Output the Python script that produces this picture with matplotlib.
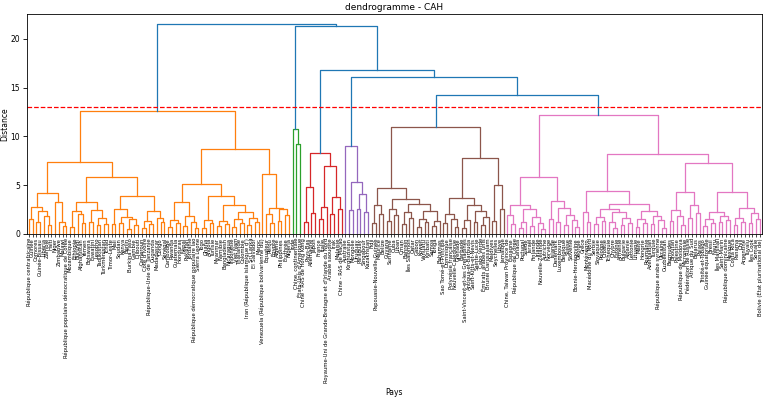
import matplotlib
matplotlib.use("Agg")
import matplotlib.pyplot as plt

seuil = 13.0

# feuilles de chaque classe, de gauche a droite
pays_orange = [
    "République centrafricaine", "Guinée", "Comores", "Guinée-Bissau", "Libéria", "Zambie", "Haïti", "Niger",
    "Zimbabwe", "Malawi", "République populaire démocratique de Corée", "Mozambique", "Éthiopie", "Burundi",
    "Afghanistan", "Yémen", "Botswana", "Eswatini", "Lesotho", "Tadjikistan", "Turkménistan", "Tchad",
    "Timor-Leste", "Mali", "Soudan", "Kenya", "Bénin", "Burkina Faso", "Gambie", "Djibouti", "Cameroun",
    "Côte d'Ivoire", "République-Unie de Tanzanie", "Ouganda", "Madagascar", "Congo", "Sénégal", "Cambodge",
    "Rwanda", "Guatemala", "Honduras", "Népal", "Pakistan", "Jordanie", "République démocratique populaire lao",
    "Sierra Leone", "Togo", "Ghana", "Angola", "Tunisie", "Myanmar", "Namibie", "Bangladesh", "Nicaragua",
    "Indonésie", "Viet Nam", "Thaïlande", "Colombie", "Iran (République islamique d')", "Sri Lanka",
    "El Salvador", "Maroc", "Venezuela (République bolivarienne du)", "Équateur", "Pérou", "Égypte", "Algérie",
    "Philippines", "Érythrée", "Nigéria",
]
pays_vert = ["Inde", "Chine, continentale", "États-Unis d'Amérique"]
pays_rouge = [
    "Chine - RAS de Hong Kong", "Pays-Bas", "Allemagne", "Japon", "France", "Italie",
    "Royaume-Uni de Grande-Bretagne et d'Irlande du Nord", "Arabie saoudite", "Irak", "Malaisie",
    "Chine - RAS de Macao",
]
pays_violet = ["Australie", "Kirghizistan", "Mongolie", "Uruguay", "Paraguay", "Singapour", "Kazakhstan"]
pays_brun = [
    "Fidji", "Papouasie-Nouvelle-Guinée", "Maurice", "Belize", "Guyana", "Suriname", "Cuba", "Liban", "Oman",
    "Bahreïn", "Îles Salomon", "Qatar", "Gabon", "Koweït", "Vanuatu", "Kiribati", "Samoa", "Tonga", "Bahamas",
    "Sao Tomé-et-Principe", "Dominique", "Polynésie française", "Nouvelle-Calédonie", "Grenade", "Barbade",
    "Saint-Vincent-et-les Grenadines", "Antigua-et-Barbuda", "Saint-Kitts-et-Nevis", "Sainte-Lucie",
    "Cabo Verde", "Émirats arabes unis", "Brunéi Darussalam", "Maldives", "Seychelles", "Libye", "Jamaïque",
]
pays_rose = [
    "Chine, Taiwan Province de", "Espagne", "République de Corée", "Canada", "Portugal", "Suède", "Israël",
    "Finlande", "Irlande", "Nouvelle-Zélande", "Autriche", "Norvège", "Islande", "Danemark", "Luxembourg",
    "Belgique", "Suisse", "Slovénie", "Bosnie-Herzégovine", "Géorgie", "Grèce", "Monténégro",
    "Macédoine du Nord", "Serbie", "Slovaquie", "Pologne", "Croatie", "Tchéquie", "Chypre", "Estonie",
    "Arménie", "Bulgarie", "Albanie", "Lettonie", "Lituanie", "Malte", "Hongrie", "Roumanie", "Azerbaïdjan",
    "Turquie", "République arabe syrienne", "Ukraine", "Ouzbékistan", "Bermudes", "Bhoutan", "Palestine",
    "République de Moldova", "Micronésie", "Fédération de Russie", "Afrique du Sud", "Bélarus", "Palaos",
    "Trinité-et-Tobago", "Guinée équatoriale", "Brésil", "Nauru", "Îles Marshall", "Saint-Marin",
    "République dominicaine", "Mexique", "Costa Rica", "Panama", "Chili", "Argentine", "Tuvalu", "Îles Cook",
    "Somalie", "Bolivie (État plurinational de)",
]

# fusions [hauteur, gauche, droite] ; les entiers sont les feuilles de la classe
arbre_orange = [12.6,
    [7.4,
        [4.2,
            [2.8, [1.5, 0, 1], [2.3, [1.2, 2, 3], [1.8, 4, [0.9, 5, 6]]]],
            [3.3, 7, [1.2, 8, [0.8, 9, 10]]]],
        [5.8,
            [3.3,
                [2.3, [0.7, 11, 12], [2.0, 13, [1.1, 14, 15]]],
                [2.4, [1.2, 16, 17], [1.6, [0.9, 18, 19], [1.0, 20, 21]]]],
            [3.9,
                [2.6, [1.0, 22, 23], [1.7, [1.1, 24, 25], [1.5, [0.5, 26, 27], [0.9, 28, 29]]]],
                [2.3, [1.3, [0.6, 30, 31], [1.0, 32, 33]], [1.6, 34, [1.2, 35, 36]]]]]],
    [8.7,
        [5.1,
            [3.3, [1.4, [0.7, 37, 38], [1.1, 39, 40]], [1.8, [0.8, 41, 42], [1.2, 43, [0.6, 44, 45]]]],
            [3.9,
                [1.4, [0.6, 46, 47], [1.1, 48, 49]],
                [3.0, [1.3, [0.8, 50, 51], [1.0, 52, 53]],
                      [2.2, [1.5, [0.7, 54, 55], [1.1, 56, 57]], [1.6, [0.9, 58, 59], [1.2, 60, 61]]]]]],
        [6.1, 62, [2.7, [2.0, 63, [1.1, 64, 65]], [2.5, [1.3, 66, 67], [1.9, 68, 69]]]]]]
arbre_vert = [10.8, 0, [9.2, 1, 2]]
arbre_rouge = [8.3,
    [4.8, [1.2, 0, 1], [2.1, 2, 3]],
    [7.0, [2.8, [1.5, 4, 5], 6], [3.8, [2.0, 7, 8], [2.6, 9, 10]]]]
arbre_violet = [9.0, 0, [5.3, [2.4, 1, 2], [4.1, [2.6, 3, 4], [2.2, 5, 6]]]]
arbre_brun = [11.0,
    [4.7,
        [3.0, [1.1, 0, 1], [2.0, 2, 3]],
        [3.6,
            [2.6, [1.3, 4, 5], [1.9, 6, 7]],
            [3.1, [2.2, [1.0, 8, 9], [1.6, 10, 11]],
                  [2.3, [1.5, [0.7, 12, 13], [1.2, 14, 15]], [1.3, [0.8, 16, 17], 18]]]]],
    [7.8,
        [3.7,
            [2.0, [1.1, 19, 20], [1.5, 21, [0.7, 22, 23]]],
            [3.0, [1.4, [0.6, 24, 25], 26], [2.3, [1.2, 27, 28], [1.7, [0.9, 29, 30], 31]]]],
        [5.0, [1.3, 32, 33], [2.6, 34, 35]]]]
arbre_rose = [12.2,
    [5.8,
        [3.0, [1.9, 0, [1.0, 1, 2]], [2.5, [1.2, [0.6, 3, 4], 5], [1.7, [0.8, 6, 7], [1.1, 8, [0.5, 9, 10]]]]],
        [3.4, [1.5, 11, 12], [2.7, [1.2, 13, 14], [1.9, [0.9, 15, 16], [1.4, 17, [0.7, 18, 19]]]]]],
    [8.2,
        [4.4,
            [2.2, 20, [1.2, 21, 22]],
            [3.1,
                [2.6, [1.7, [1.0, 23, 24], [1.3, 25, 26]],
                      [2.2, [1.2, 27, [0.6, 28, 29]], [1.6, [0.9, 30, 31], [1.1, 32, 33]]]],
                [2.3, [1.5, [0.7, 34, 35], [1.1, 36, 37]], [1.8, [1.0, 38, 39], [1.4, 40, [0.6, 41, 42]]]]]],
        [7.3,
            [4.3, [2.4, [1.3, 43, 44], [1.8, 45, [0.9, 46, 47]]], [3.0, [1.6, 48, 49], [2.1, 50, 51]]],
            [4.3, [2.2, [1.5, [0.8, 52, 53], [1.1, 54, 55]], [1.8, [1.2, 56, 57], [1.4, 58, 59]]],
                  [2.7, [1.6, [0.9, 60, 61], [1.2, 62, 63]], [2.1, [1.1, 64, 65], [1.5, 66, 67]]]]]]]

# hauteurs des fusions au-dessus du seuil : racine, puis (vert | reste), (rouge | reste), (violet | reste), (brun | rose)
h_haut = [21.5, 21.3, 16.8, 16.1, 14.2]

classes = [
    (pays_orange, arbre_orange, "C1"),
    (pays_vert, arbre_vert, "C2"),
    (pays_rouge, arbre_rouge, "C3"),
    (pays_violet, arbre_violet, "C4"),
    (pays_brun, arbre_brun, "C5"),
    (pays_rose, arbre_rose, "C6"),
]

fig, ax = plt.subplots(figsize=(7.68, 3.97), dpi=100)
fig.subplots_adjust(left=0.035, right=0.992, top=0.965, bottom=0.411)
lw = 0.9


def trace(t, decalage, couleur):
    if isinstance(t, int):
        return 5 + 10 * (t + decalage), 0.0
    h, a, b = t
    xa, ha = trace(a, decalage, couleur)
    xb, hb = trace(b, decalage, couleur)
    c = couleur if h <= seuil else "C0"
    ax.plot([xa, xa, xb, xb], [ha, h, h, hb], color=c, lw=lw)
    return (xa + xb) / 2, h


noeuds = []
etiquettes = []
decalage = 0
for pays, arbre, couleur in classes:
    noeuds.append(trace(arbre, decalage, couleur))
    etiquettes += pays
    decalage += len(pays)

# fusions au-dessus du seuil, de droite a gauche
droite = noeuds[-1]
for i in range(len(noeuds) - 2, -1, -1):
    gauche = noeuds[i]
    h = h_haut[i]
    ax.plot([gauche[0], gauche[0], droite[0], droite[0]], [gauche[1], h, h, droite[1]], color="C0", lw=lw)
    droite = ((gauche[0] + droite[0]) / 2, h)

n = len(etiquettes)
ax.axhline(seuil, color="red", ls="--", lw=0.9)
ax.set_xlim(0, 10 * n)
ax.set_ylim(0, 1.05 * h_haut[0])
ax.set_xticks([5 + 10 * i for i in range(n)])
ax.set_xticklabels(etiquettes, rotation=90, fontsize=3.8)
ax.tick_params(axis="x", length=2, width=0.5, pad=1)
ax.tick_params(axis="y", labelsize=5.5, length=3, width=0.6, pad=2)
for s in ax.spines.values():
    s.set_linewidth(0.6)
ax.set_title("dendrogramme - CAH", fontsize=6.5, pad=3)
ax.set_ylabel("Distance", fontsize=5.5, labelpad=1)
ax.set_xlabel("Pays", fontsize=5.5, labelpad=3)

fig.savefig("out.png", dpi=100)
